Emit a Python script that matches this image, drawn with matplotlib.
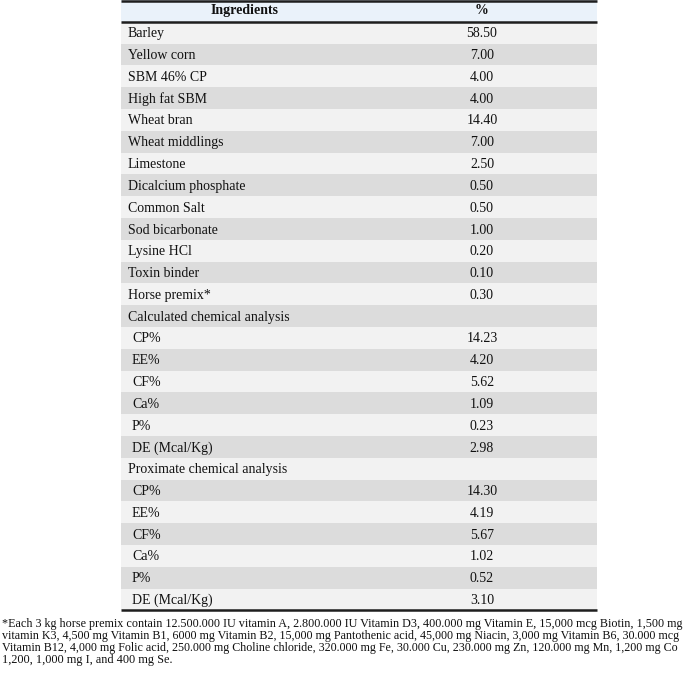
import matplotlib
matplotlib.use("Agg")
import matplotlib.pyplot as plt
from matplotlib.patches import Rectangle

# ---------------- data ----------------
header = ["Ingredients", "%"]
ingredients = ["Barley", "Yellow corn", "SBM 46% CP", "High fat SBM", "Wheat bran",
               "Wheat middlings", "Limestone", "Dicalcium phosphate", "Common Salt",
               "Sod bicarbonate", "Lysine HCl", "Toxin binder", "Horse premix*"]
ingredient_pct = ["58.50", "7.00", "4.00", "4.00", "14.40", "7.00", "2.50", "0.50",
                  "0.50", "1.00", "0.20", "0.10", "0.30"]
calc_title = "Calculated chemical analysis"
analysis_items = ["CP%", "EE%", "CF%", "Ca%", "P%", "DE (Mcal/Kg)"]
calc_values = ["14.23", "4.20", "5.62", "1.09", "0.23", "2.98"]
prox_title = "Proximate chemical analysis"
prox_values = ["14.30", "4.19", "5.67", "1.02", "0.52", "3.10"]
footnote_lines = [
    "*Each 3 kg horse premix contain 12.500.000 IU vitamin A, 2.800.000 IU Vitamin D3, 400.000 mg Vitamin E, 15,000 mcg Biotin, 1,500 mg",
    "vitamin K3, 4,500 mg Vitamin B1, 6000 mg Vitamin B2, 15,000 mg Pantothenic acid, 45,000 mg Niacin, 3,000 mg Vitamin B6, 30.000 mcg",
    "Vitamin B12, 4,000 mg Folic acid, 250.000 mg Choline chloride, 320.000 mg Fe, 30.000 Cu, 230.000 mg Zn, 120.000 mg Mn, 1,200 mg Co",
    "1,200, 1,000 mg I, and 400 mg Se.",
]

# rows: (label, value, indented)
rows = [(n, v, False) for n, v in zip(ingredients, ingredient_pct)]
rows.append((calc_title, "", False))
rows += [(n, v, True) for n, v in zip(analysis_items, calc_values)]
rows.append((prox_title, "", False))
rows += [(n, v, True) for n, v in zip(analysis_items, prox_values)]

# ---------------- layout ----------------
W, H = 690, 674
fig = plt.figure(figsize=(W / 100, H / 100), dpi=100)
ax = fig.add_axes([0, 0, 1, 1])
ax.set_xlim(0, W)
ax.set_ylim(H, 0)
ax.axis("off")

FONT = "Liberation Serif"
left, right = 121, 597
col_center = 482
hdr_center = 245
row_h = 21.8
n_rows = len(rows) + 1
header_bg = "#eaf2fa"
light_bg = "#f2f2f2"
dark_bg = "#dcdcdc"
line_col = "#1e1e1e"
txt_col = "#111111"

# header
ax.add_patch(Rectangle((left, 0), right - left, row_h, facecolor=header_bg, edgecolor="none"))
ax.text(hdr_center, row_h / 2, header[0], ha="center", va="center", fontsize=10,
        fontweight="bold", family=FONT, color=txt_col)
ax.text(col_center, row_h / 2, header[1], ha="center", va="center", fontsize=10,
        fontweight="bold", family=FONT, color=txt_col)

for i, (label, val, indent) in enumerate(rows):
    y0 = (i + 1) * row_h
    bg = light_bg if i % 2 == 0 else dark_bg
    ax.add_patch(Rectangle((left, y0), right - left, row_h, facecolor=bg, edgecolor="none"))
    yb = y0 + row_h / 2 + 4.6
    ax.text(left + (11 if indent else 7), yb, label, ha="left", va="baseline",
            fontsize=10, family=FONT, color=txt_col)
    if val:
        ax.text(col_center, yb, val, ha="center", va="baseline", fontsize=10,
                family=FONT, color=txt_col)

bottom = n_rows * row_h
for y, lw in [(0.8, 1.8), (row_h, 1.8), (bottom, 1.8)]:
    ax.plot([left, right], [y, y], color=line_col, lw=lw, solid_capstyle="butt")

# footnote: full lines fitted to the text block width
fig.canvas.draw()
renderer = fig.canvas.get_renderer()
fn_size = 8.8
fn_left, fn_right = 2, 686
fn_base0 = bottom + 16.5
fn_step = 11.9

for k, line in enumerate(footnote_lines):
    y = fn_base0 + k * fn_step
    t = ax.text(fn_left, y, line, ha="left", va="baseline", fontsize=fn_size,
                family=FONT, color=txt_col)
    if k < len(footnote_lines) - 1:
        wd = t.get_window_extent(renderer).width
        t.set_fontsize(fn_size * (fn_right - fn_left) / wd)

fig.savefig("out.png", dpi=100)
